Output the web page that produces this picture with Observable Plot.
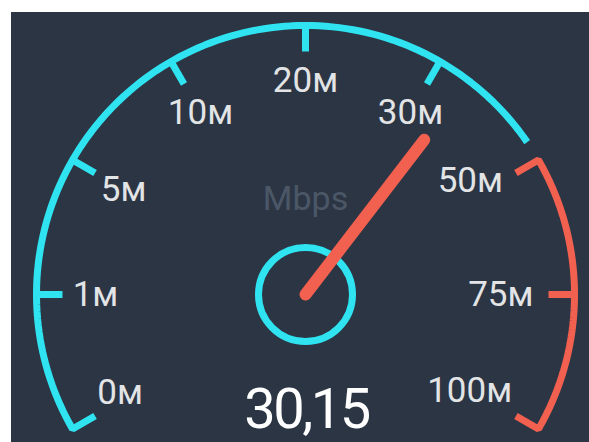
<!DOCTYPE html>
<html>
<head>
<meta charset="utf-8">
<script src="https://cdn.jsdelivr.net/npm/d3@7"></script>
<script src="https://cdn.jsdelivr.net/npm/@observablehq/plot@0.6"></script>
<style>
  html, body { margin: 0; padding: 0; background: #ffffff; }
  #wrap { position: absolute; left: 11px; top: 12px; width: 578px; height: 430px; background: #2b3544; overflow: hidden; }
  svg { display: block; font-family: Roboto, "Noto Sans", sans-serif; }
</style>
</head>
<body>
<div id="wrap"></div>
<script>
// ---- data ----
const tickValues = [0, 1, 5, 10, 20, 30, 50, 75, 100];
const tickLabels = ["0м", "1м", "5м", "10м", "20м", "30м", "50м", "75м", "100м"];
const zoneSafeEnd = 47;      // cyan zone ends just before 50
const zoneDangerStart = 50;  // red zone from 50 to 100
const needleValue = 35;      // where the needle points on the dial
const readout = "30,15";
const unitLabel = "Mbps";

// ---- geometry helpers ----
const W = 578, H = 430, CX = 294, CY = 282, R = 269;
const toRad = d => d * Math.PI / 180;
// dial: ticks evenly spaced, 30° apart, from 210° (0) to -30° (100)
const angle = d3.scaleLinear().domain(tickValues).range(tickValues.map((_, i) => 210 - 30 * i));
const pt = (deg, r) => ({x: r * Math.cos(toRad(deg)), y: r * Math.sin(toRad(deg))});
const tickLen = 26 / R;
// labels at the two ends of the dial sit a little higher, clear of the end hooks
const labelAngle = v => v === tickValues[0] ? angle(v) - 2 : v === tickValues[tickValues.length - 1] ? angle(v) + 5 : angle(v);

function arcPoints(v0, v1) {
  const a0 = angle(v0), a1 = angle(v1);
  const n = 120;
  return d3.range(n + 1).map(i => pt(a0 + (a1 - a0) * i / n, 1));
}
const cyanPath = [pt(angle(0), 1 - tickLen), ...arcPoints(0, zoneSafeEnd)];
const redPath = [pt(angle(zoneDangerStart), 1 - tickLen), ...arcPoints(zoneDangerStart, 100), pt(angle(100), 1 - tickLen)];

const ticks = tickValues.map((v, i) => {
  const a = angle(v), o = pt(a, 1), n = pt(a, 1 - tickLen);
  const side = v >= zoneDangerStart ? "right" : v === 20 ? "top" : "left";
  const lr = side === "right" ? 228 / R : side === "top" ? 214 / R : 210 / R;
  const l = pt(labelAngle(v), lr);
  return {v, label: tickLabels[i], a, x1: o.x, y1: o.y, x2: n.x, y2: n.y, lx: l.x, ly: l.y,
          side, danger: v >= zoneDangerStart};
});
const innerTicks = ticks.filter(t => t.v !== 0 && t.v !== 50 && t.v !== 100);
const needleTip = pt(angle(needleValue), 195 / R);

const CYAN = "#2fe3f1", RED = "#f2604f", LABEL = "#e2e4e6";

const plot = Plot.plot({
  width: W, height: H,
  margin: 0,
  x: {domain: [-CX / R, (W - CX) / R], range: [0, W], axis: null},
  y: {domain: [-(H - CY) / R, CY / R], range: [H, 0], axis: null},
  style: {background: "transparent"},
  marks: [
    Plot.line(cyanPath, {x: "x", y: "y", stroke: CYAN, strokeWidth: 7, strokeLinejoin: "miter", strokeLinecap: "butt", curve: "linear"}),
    Plot.line(redPath, {x: "x", y: "y", stroke: RED, strokeWidth: 7, strokeLinejoin: "miter", strokeLinecap: "butt", curve: "linear"}),
    Plot.link(innerTicks, {x1: "x1", y1: "y1", x2: "x2", y2: "y2", stroke: d => d.danger ? RED : CYAN, strokeWidth: 7, strokeLinecap: "butt"}),
    Plot.text(ticks.filter(t => t.side !== "right"), {x: "lx", y: "ly", text: "label", textAnchor: "middle", lineAnchor: "middle", fill: LABEL, fontSize: 35}),
    Plot.text(ticks.filter(t => t.side === "right"), {x: "lx", y: "ly", text: "label", textAnchor: "end", lineAnchor: "middle", fill: LABEL, fontSize: 35}),
    Plot.text([unitLabel], {x: 0, y: 0.355, text: d => d, textAnchor: "middle", lineAnchor: "middle", fill: "#4b5767", fontSize: 34}),
    Plot.dot([{x: 0, y: 0}], {x: "x", y: "y", r: 47, stroke: CYAN, strokeWidth: 7, fill: "none"}),
    Plot.link([{x1: 0, y1: 0, x2: needleTip.x, y2: needleTip.y}], {x1: "x1", y1: "y1", x2: "x2", y2: "y2", stroke: RED, strokeWidth: 12, strokeLinecap: "round"}),
    Plot.text([readout], {x: 0, y: -0.43, text: d => d, textAnchor: "middle", lineAnchor: "middle", fill: "#ffffff", fontSize: 56})
  ]
});
document.getElementById("wrap").appendChild(plot);
// tighten the readout's letter spacing like the reference
d3.select(plot).selectAll("text").filter(function() { return this.textContent === readout; })
  .style("letter-spacing", "-2.5px").attr("dx", 1);
</script>
</body>
</html>
